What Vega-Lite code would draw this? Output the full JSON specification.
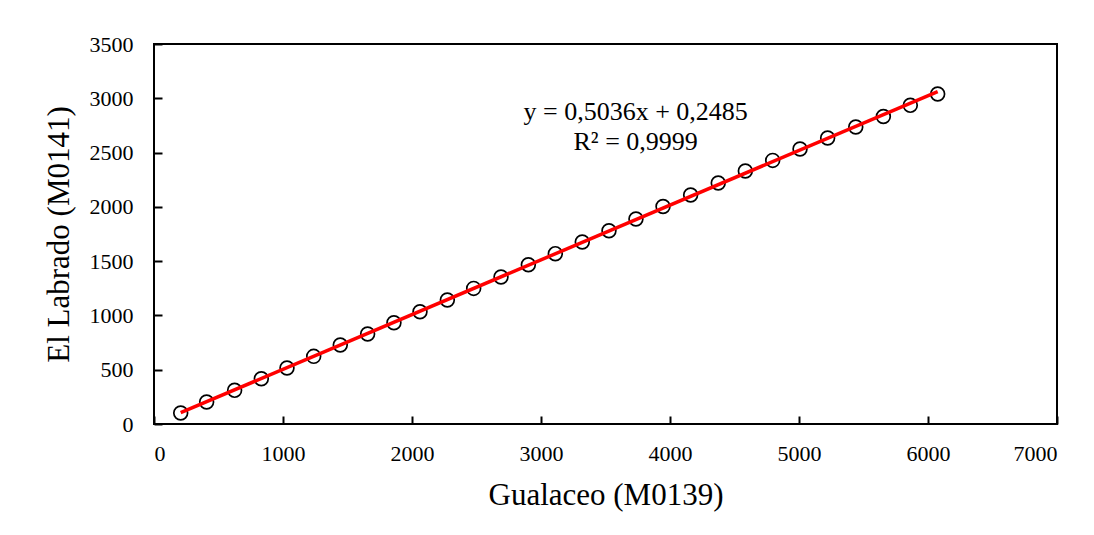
{
  "$schema": "https://vega.github.io/schema/vega-lite/v6.json",
  "autosize": "none",
  "width": 903,
  "height": 380,
  "padding": {"left": 154, "top": 44, "right": 37, "bottom": 111},
  "background": "white",
  "config": {
    "view": {"stroke": "black", "strokeWidth": 2},
    "font": "Liberation Serif",
    "axis": {
      "labelFont": "Liberation Serif",
      "titleFont": "Liberation Serif",
      "labelColor": "black",
      "titleColor": "black",
      "labelFontSize": 22,
      "titleFontSize": 31,
      "titleFontWeight": "normal",
      "grid": false,
      "domain": false,
      "tickColor": "black",
      "tickWidth": 2,
      "tickSize": -8,
      "format": "d"
    }
  },
  "datasets": {
    "pts": [
      {"g": 207, "l": 101},
      {"g": 408, "l": 203},
      {"g": 625, "l": 310},
      {"g": 832, "l": 417},
      {"g": 1031, "l": 516},
      {"g": 1238, "l": 623},
      {"g": 1444, "l": 728},
      {"g": 1656, "l": 829},
      {"g": 1860, "l": 933},
      {"g": 2062, "l": 1034},
      {"g": 2274, "l": 1142},
      {"g": 2478, "l": 1249},
      {"g": 2690, "l": 1354},
      {"g": 2902, "l": 1467},
      {"g": 3111, "l": 1569},
      {"g": 3320, "l": 1676},
      {"g": 3527, "l": 1780},
      {"g": 3736, "l": 1888},
      {"g": 3946, "l": 2004},
      {"g": 4160, "l": 2109},
      {"g": 4374, "l": 2220},
      {"g": 4584, "l": 2330},
      {"g": 4796, "l": 2428},
      {"g": 5008, "l": 2533},
      {"g": 5222, "l": 2634},
      {"g": 5440, "l": 2736},
      {"g": 5654, "l": 2833},
      {"g": 5863, "l": 2935},
      {"g": 6075, "l": 3040}
    ],
    "eq": [
      {"g": 3734, "l": 2797, "t": "y = 0,5036x + 0,2485\nR² = 0,9999"}
    ]
  },
  "layer": [
    {
      "data": {"name": "pts"},
      "mark": {"type": "point", "shape": "circle", "size": 190, "stroke": "black", "strokeWidth": 1.7, "filled": false, "opacity": 1},
      "encoding": {
        "x": {
          "field": "g", "type": "quantitative",
          "scale": {"domain": [0, 7000], "nice": false},
          "axis": {"values": [0, 1000, 2000, 3000, 4000, 5000, 6000, 7000], "format": "d", "title": "Gualaceo (M0139)", "labelPadding": 27, "titlePadding": 16}
        },
        "y": {
          "field": "l", "type": "quantitative",
          "scale": {"domain": [0, 3500], "nice": false},
          "axis": {"values": [0, 500, 1000, 1500, 2000, 2500, 3000, 3500], "format": "d", "title": "El Labrado (M0141)", "labelPadding": 29, "titlePadding": 14}
        }
      }
    },
    {
      "data": {"name": "pts"},
      "transform": [{"regression": "l", "on": "g"}],
      "mark": {"type": "line", "color": "#ff0000", "strokeWidth": 3.5},
      "encoding": {
        "x": {"field": "g", "type": "quantitative"},
        "y": {"field": "l", "type": "quantitative"}
      }
    },
    {
      "data": {"name": "eq"},
      "mark": {"type": "text", "font": "Liberation Serif", "fontSize": 26, "align": "center", "baseline": "alphabetic", "lineBreak": "\n", "lineHeight": 30, "color": "black"},
      "encoding": {
        "x": {"field": "g", "type": "quantitative"},
        "y": {"field": "l", "type": "quantitative"},
        "text": {"field": "t"}
      }
    }
  ]
}
